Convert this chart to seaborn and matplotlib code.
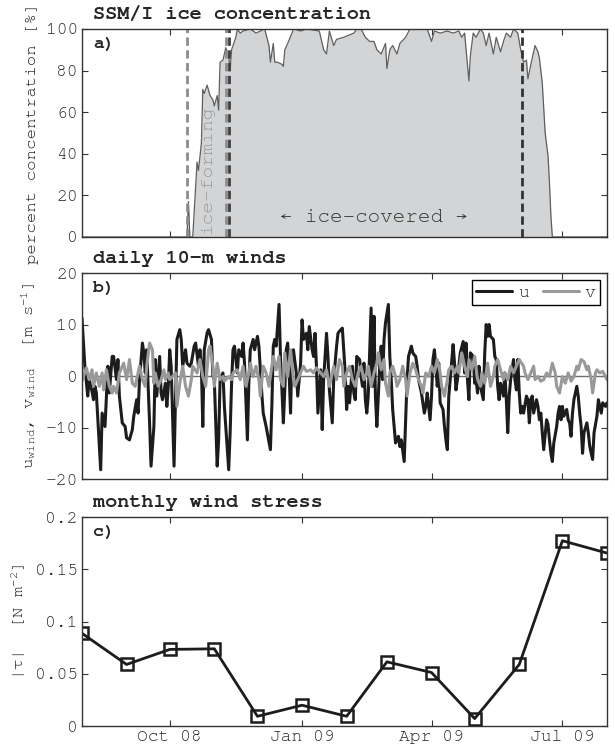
import matplotlib
matplotlib.use("Agg")
import matplotlib.pyplot as plt
from matplotlib import font_manager
import seaborn as sns
import pandas as pd

# time axis: days since 1 Aug 2008
START = pd.Timestamp("2008-08-01")
END = pd.Timestamp("2009-08-01")
tick_dates = ["2008-10-01", "2009-01-01", "2009-04-01", "2009-07-01"]
tick_labels = ["Oct 08", "Jan 09", "Apr 09", "Jul 09"]

# a) SSM/I ice concentration [%]
ice_day = [0, 72, 73, 74, 75, 77, 79, 80, 81, 83, 84, 85, 87, 89, 91, 92, 94, 95, 96,
           98, 100, 102, 103, 104, 105, 107, 108, 110, 112, 117, 121, 124, 127, 130,
           131, 133, 134, 136, 139, 140, 141, 143, 146, 147, 152, 156, 165, 168, 170,
           172, 175, 177, 182, 189, 191, 194, 197, 200, 203, 205, 208, 211, 212, 214,
           216, 219, 221, 225, 228, 240, 243, 245, 249, 254, 258, 262, 264, 266, 269,
           270, 272, 274, 277, 279, 281, 283, 286, 288, 291, 293, 295, 298, 300, 303,
           305, 307, 309, 310, 313, 315, 317, 318, 320, 322, 324, 325, 326, 327, 365]
ice_pct = [0, 0, 0, 17, 0, 0, 24, 36, 32, 45, 71, 69, 73, 68, 66, 63, 68, 61, 84,
           85, 91, 87, 80, 90, 92, 96, 100, 98, 99, 100, 98, 99, 100, 92,
           84, 93, 84, 84, 83, 82, 90, 93, 98, 100, 99, 100, 99, 90, 88,
           99, 92, 95, 96, 98, 100, 100, 96, 94, 94, 90, 88, 93, 81, 90,
           92, 88, 93, 96, 100, 100, 94, 99, 98, 99, 98, 99, 96, 98, 75,
           87, 98, 96, 100, 98, 92, 98, 88, 96, 89, 94, 98, 96, 100, 98,
           90, 84, 85, 76, 86, 92, 89, 86, 74, 50, 39, 26, 10, 0, 0]
ice_forming_start = 73
ice_forming_end = 100
ice_covered_start = 102.5
ice_covered_end = 306

# b) daily 10-m winds [m s-1]
u_day = [0, 2, 4, 5, 7, 8, 9, 10, 13, 14, 16, 17, 18, 19, 21, 22, 24, 25, 26, 28,
         30, 31, 33, 35, 36, 38, 39, 40, 42, 43, 44, 45, 47, 48, 50, 51, 52, 54, 55, 56,
         58, 59, 60, 61, 62, 64, 65, 66, 68, 69, 70, 72, 73, 75, 76, 78, 79, 81, 82, 83,
         84, 85, 87, 88, 90, 91, 92, 94, 95, 96, 98, 99, 102, 103, 104, 105, 106, 108, 109, 111,
         112, 113, 115, 116, 117, 119, 120, 122, 123, 125, 126, 128, 131, 132, 133, 134, 135, 137, 138, 140,
         141, 142, 143, 144, 145, 146, 147, 149, 150, 152, 153, 154, 156, 157, 158, 160, 161, 162, 163, 164,
         166, 167, 168, 170, 171, 172, 174, 175, 177, 178, 179, 181, 182, 183, 184, 185, 186, 188, 189, 190,
         191, 193, 194, 195, 196, 197, 198, 199, 201, 202, 203, 204, 205, 207, 208, 209, 210, 211, 213, 214,
         215, 216, 217, 218, 220, 221, 222, 224, 225, 226, 227, 229, 230, 231, 232, 233, 234, 236, 237, 238,
         239, 240, 242, 243, 244, 245, 246, 247, 248, 249, 251, 252, 253, 254, 255, 256, 258, 259, 260, 261,
         262, 263, 265, 266, 267, 268, 269, 270, 272, 273, 274, 275, 276, 277, 279, 280, 281, 282, 283, 284,
         286, 287, 288, 289, 290, 291, 293, 294, 295, 296, 297, 298, 300, 301, 302, 303, 304, 305, 306, 307,
         309, 310, 311, 312, 313, 314, 316, 317, 318, 319, 320, 321, 323, 324, 325, 326, 327, 328, 330, 331,
         332, 333, 334, 335, 337, 338, 339, 340, 341, 342, 344, 345, 346, 347, 348, 349, 351, 352, 353, 354,
         355, 356, 358, 359, 360, 361, 362, 364, 365]
u_ms = [11.3, 1.9, -3.9, -0.7, -3.0, -4.6, -2.0, -3.3, -18.2, -7.2, -9.8, -3.9, 1.9, -3.3, 3.8, 3.8, -0.7, 3.2, -3.9, -9.1,
        -9.8, -12.0, -12.4, -10.4, -7.8, -4.6, -7.2, -0.7, 6.4, 4.5, 0.6, 5.1, -9.1, -17.5, -9.8, 3.2, -3.9, 3.8, -3.3, -4.6,
        -1.4, -5.9, -2.0, 5.1, 1.9, -17.5, -4.6, 7.1, 9.0, 7.1, 1.9, 5.1, 2.5, 1.9, 2.5, 5.8, 6.4, 1.9, 5.1, 1.9,
        -9.8, 5.1, 8.4, 9.0, 7.1, 0.0, -0.7, -17.5, -12.4, -0.7, 0.6, -5.9, -18.2, -11.0, -1.4, 5.1, 5.8, 0.6, 5.1, 3.8,
        6.4, 2.5, -12.4, -1.4, 5.1, 7.1, 5.1, 7.7, 5.8, -3.3, -7.2, -9.8, -14.3, -5.9, 5.8, 7.1, 5.8, 13.9, 3.8, -9.1,
        -2.7, 5.1, 6.4, 0.6, -7.2, 4.5, 5.1, 0.6, -3.9, 2.5, 10.9, 7.1, 8.3, 5.1, 9.6, 5.1, 3.8, 8.3, 1.9, -7.2,
        1.2, -10.4, -0.7, 8.3, 3.8, -2.7, -9.1, -0.7, 5.8, 8.3, 8.7, 9.3, 5.1, 0.6, -6.5, -2.0, -5.2, 1.9, -3.3, -4.6,
        3.8, 3.2, 0.0, -2.0, 2.5, -4.6, -7.2, -3.9, 13.2, -2.0, 11.6, -3.9, -9.8, 1.9, 5.8, -0.7, 7.1, 10.3, 13.9, 3.8,
        -0.7, -6.5, -9.8, -13.0, -11.7, -13.7, -12.4, -16.6, -8.4, -0.7, 3.8, 5.8, 4.5, 4.1, 3.8, 1.9, -0.7, -3.3, -5.2, -7.2,
        -5.9, -3.3, -8.5, -3.9, 3.2, 5.1, 1.9, -2.0, 2.5, -5.2, -6.5, -9.8, -12.4, -14.3, -3.9, -0.7, 6.1, 2.5, -2.7, -0.7,
        1.9, 4.5, 6.7, 0.6, 6.4, -0.7, -4.6, 4.5, 3.8, -1.4, -0.7, -3.3, 1.9, -2.0, -4.6, 4.5, 10.0, 7.7, 10.0, 7.7,
        7.1, 3.8, 3.2, -2.0, -4.6, -1.4, -3.9, 0.6, -4.6, -11.0, -3.9, -0.7, 3.2, -0.7, -2.7, 3.2, -3.3, -7.2, -5.9, -7.2,
        -3.9, -4.6, -9.1, -4.6, -3.9, -7.2, -4.6, -5.9, -8.5, -7.2, -11.0, -14.3, -8.5, -9.4, -12.4, -15.0, -16.6, -13.0, -9.8, -7.2,
        -5.9, -8.5, -5.9, -7.8, -6.5, -8.5, -9.1, -11.7, -7.2, -4.6, -2.0, -3.9, -7.2, -9.8, -15.0, -11.0, -9.1, -11.0, -13.6, -15.0,
        -16.2, -11.0, -7.8, -4.6, -5.9, -7.2, -5.2, -5.9, -5.2]
v_day = [0, 3, 5, 7, 8, 10, 12, 14, 15, 17, 19, 21, 22, 24, 26, 28, 29, 31, 33, 35,
         37, 38, 40, 42, 44, 45, 47, 49, 50, 51, 53, 55, 57, 58, 60, 61, 63, 65, 66, 68,
         70, 72, 74, 76, 77, 80, 82, 84, 86, 88, 89, 91, 92, 94, 96, 98, 99, 102, 104, 105,
         108, 110, 112, 114, 116, 117, 119, 121, 123, 124, 126, 128, 130, 131, 133, 135, 137, 138, 140, 141,
         143, 145, 147, 148, 150, 152, 154, 156, 159, 161, 163, 166, 168, 170, 172, 175, 177, 179, 181, 182,
         184, 186, 188, 190, 192, 194, 196, 198, 199, 201, 203, 205, 206, 208, 210, 211, 213, 214, 216, 218,
         219, 221, 223, 225, 226, 228, 230, 232, 234, 236, 237, 239, 241, 243, 245, 247, 249, 250, 252, 254,
         255, 257, 259, 261, 262, 264, 266, 268, 269, 271, 273, 275, 277, 278, 280, 282, 284, 286, 287, 289,
         291, 293, 294, 296, 298, 300, 302, 304, 307, 308, 310, 312, 314, 315, 317, 319, 321, 323, 325, 327,
         329, 330, 332, 334, 336, 338, 340, 342, 344, 345, 347, 349, 351, 352, 354, 355, 357, 358, 360, 362,
         365]
v_ms = [-1.0, 1.6, -0.7, 1.2, -2.0, 0.6, -2.0, 0.6, -2.7, 1.2, -2.0, -3.3, -2.0, -3.3, 0.6, 1.9, 2.5, -0.7, 3.2, -1.4,
        -2.0, -0.7, 1.9, -0.7, -2.0, 1.9, 6.4, 5.1, -1.4, 0.6, -2.0, -0.7, 1.2, -0.7, 0.6, -0.7, -0.1, 0.6, -5.9, -1.4,
        1.9, -2.0, -3.9, -0.7, 1.9, 0.6, 3.2, -0.1, -2.0, 5.1, 5.8, 1.9, -2.0, 2.5, -0.7, -0.1, -1.0, -0.1, -0.7, 0.6,
        1.2, -0.7, 1.9, -2.0, 0.6, 2.5, -0.1, 1.9, -0.7, -3.9, 1.9, 0.6, -2.0, -0.1, 3.8, 1.2, 3.8, -0.7, -2.0, 4.5,
        -0.1, 5.1, -0.7, -2.0, -0.7, 0.6, 1.9, 0.9, 1.2, 0.6, 1.6, 0.6, -0.1, 1.2, -2.0, 1.9, -0.7, 3.2, 1.9, -2.0,
        0.6, 1.9, -0.7, -2.0, 0.6, 1.9, -0.7, 0.6, 1.9, -2.0, 0.6, 2.5, 4.5, 1.2, 3.2, -1.4, -3.9, 0.6, 1.9, -0.1,
        -2.0, -0.7, 1.9, -0.7, -3.9, 0.6, 2.5, 1.2, -0.7, -2.0, -3.3, 0.6, -0.1, 1.9, 0.6, 3.2, 0.6, -2.0, -3.9, -0.7,
        1.2, 1.9, 0.6, 1.9, 0.6, 4.5, 1.9, -0.1, 3.2, 1.2, 3.8, -0.7, -2.0, 0.6, -1.4, 2.5, -2.0, -0.1, 1.9, 3.2,
        1.2, -0.7, 0.6, -0.7, 1.9, 0.6, 1.9, 3.2, 1.9, 0.6, -0.7, 0.6, 1.9, -0.7, -0.1, -1.0, -0.7, 0.6, -0.1, 2.5,
        0.6, -2.0, -3.3, -0.1, -1.4, 0.6, -1.0, -0.1, 1.9, 1.2, 3.2, 2.8, 1.2, 1.9, -0.7, -3.3, 0.6, 1.2, 0.6, 0.9,
        -0.7]

# c) monthly wind stress [N m-2], first of each month Aug 08 .. Aug 09
tau_month = ["2008-08", "2008-09", "2008-10", "2008-11", "2008-12", "2009-01", "2009-02",
             "2009-03", "2009-04", "2009-05", "2009-06", "2009-07", "2009-08"]
tau_nm2 = [0.0887, 0.0589, 0.0733, 0.0739, 0.0093, 0.0199, 0.0093,
           0.0614, 0.0512, 0.0071, 0.0589, 0.1773, 0.1655]

assert len(ice_day) == len(ice_pct)
assert len(u_day) == len(u_ms)
assert len(v_day) == len(v_ms)


def to_dates(days):
    return START + pd.to_timedelta(days, unit="D")


# prefer a Courier-like serif mono if one is installed
installed = {f.name for f in font_manager.fontManager.ttflist}
mono = next((n for n in ["Nimbus Mono PS", "Courier New", "Courier", "FreeMono",
                         "Liberation Mono"] if n in installed), "DejaVu Sans Mono")

sns.set_style("ticks")
plt.rcParams["font.family"] = [mono, "DejaVu Sans Mono"]
plt.rcParams["mathtext.fontset"] = "custom"
plt.rcParams["mathtext.rm"] = mono
plt.rcParams["mathtext.it"] = mono
plt.rcParams["mathtext.bf"] = mono + ":bold"
plt.rcParams["axes.unicode_minus"] = False

fig = plt.figure(figsize=(6.15, 7.48), dpi=100)
ax_a = fig.add_axes([0.1333, 0.6832, 0.8537, 0.2781])
ax_b = fig.add_axes([0.1333, 0.3596, 0.8537, 0.2754])
ax_c = fig.add_axes([0.1333, 0.0294, 0.8537, 0.2794])


def style_axes(ax, title, letter, show_dates=False):
    ax.set_xlim(START, END)
    ax.set_xticks(pd.to_datetime(tick_dates))
    ax.set_xticklabels(tick_labels if show_dates else [])
    ax.tick_params(direction="in", top=True, right=True, length=4, width=0.8,
                   labelsize=13, pad=3, color="#333333")
    for s in ax.spines.values():
        s.set_color("#333333")
        s.set_linewidth(1.0)
    ax.set_xlabel("")
    ax.text(0.021, 1.028, title, transform=ax.transAxes, fontsize=14.5,
            fontweight="bold", ha="left", va="bottom")
    ax.text(0.021, 0.925, letter, transform=ax.transAxes, fontsize=13,
            fontweight="bold", ha="left", va="center")


# ---- a) ice concentration
ice_dates = to_dates(ice_day)
ax_a.fill_between(ice_dates, ice_pct, 0, color="#d3d4d6", linewidth=0)
sns.lineplot(x=ice_dates, y=ice_pct, ax=ax_a, color="#5e5e5e", linewidth=0.9)
for d, c in [(ice_forming_start, "#8c8c8c"), (ice_forming_end, "#8c8c8c"),
             (ice_covered_start, "#404040"), (ice_covered_end, "#333333")]:
    ax_a.axvline(to_dates([d])[0], color=c, linewidth=2.0, dashes=(3, 1.6))
ax_a.text(to_dates([87])[0], 1.5, "ice-forming", rotation=90, color="#9a9a9a",
          fontsize=14, ha="center", va="bottom")
ax_a.text(to_dates([203])[0], 9.3, "\u2190 ice-covered \u2192", color="#333333",
          fontsize=15, ha="center", va="center")
ax_a.set_ylim(0, 100)
ax_a.set_yticks([0, 20, 40, 60, 80, 100])
ax_a.set_ylabel("percent concentration [%]", fontsize=12.5, labelpad=5)
style_axes(ax_a, "SSM/I ice concentration", "a)")

# ---- b) daily winds
ax_b.axhline(0, color="#6e6e6e", linewidth=1.0)
sns.lineplot(x=to_dates(u_day), y=u_ms, ax=ax_b, color="#1c1c1c", linewidth=2.2, label="u")
sns.lineplot(x=to_dates(v_day), y=v_ms, ax=ax_b, color="#999999", linewidth=2.2, label="v")
ax_b.set_ylim(-20, 20)
ax_b.set_yticks([-20, -10, 0, 10, 20])
ax_b.set_ylabel(r"$\mathregular{u_{wind}}$, $\mathregular{v_{wind}}$  [m s$^{-1}$]",
                fontsize=12.5, labelpad=5)
leg = ax_b.legend(loc="upper right", ncol=2, frameon=True, fancybox=False,
                  edgecolor="black", framealpha=1, fontsize=13, handlelength=2.0,
                  handletextpad=0.3, columnspacing=0.8, borderpad=0.25, borderaxespad=0.4)
leg.get_frame().set_linewidth(1.0)
style_axes(ax_b, "daily 10-m winds", "b)")

# ---- c) monthly wind stress
sns.lineplot(x=pd.to_datetime(tau_month), y=tau_nm2, ax=ax_c, color="#1c1c1c",
             linewidth=2.0, marker="s", markersize=9, markerfacecolor="none",
             markeredgecolor="#1c1c1c", markeredgewidth=1.8)
ax_c.set_ylim(0, 0.2)
ax_c.set_yticks([0, 0.05, 0.1, 0.15, 0.2])
ax_c.set_yticklabels(["0", "0.05", "0.1", "0.15", "0.2"])
ax_c.set_ylabel("|\u03c4|  [N m$^{-2}$]", fontsize=12.5, labelpad=5)
style_axes(ax_c, "monthly wind stress", "c)", show_dates=True)

fig.savefig("out.png", dpi=100)
